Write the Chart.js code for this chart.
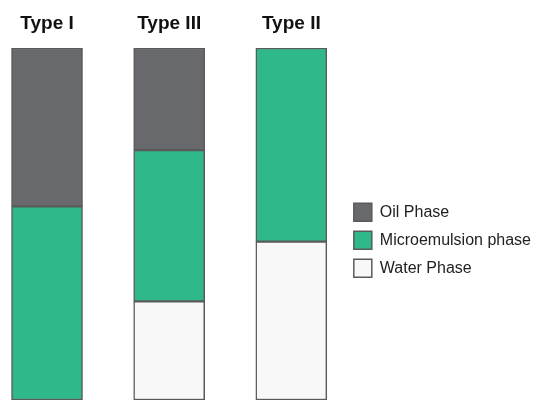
<!DOCTYPE html>
<html>
<head>
<meta charset="utf-8">
<script src="https://cdn.jsdelivr.net/npm/chart.js@4"></script>
<style>
  body { margin: 0; background: #fff; }
</style>
</head>
<body>
<canvas id="myChart" width="541" height="400"></canvas>
<script>
// phase volume fractions (% of tube height)
const types = ["Type I", "Type III", "Type II"]
const oil = [45, 29, null]
const micro = [55, 43, 55]
const water = [null, 28, 45]

const ctx = document.querySelector("#myChart")

const toPoints = arr => arr.map((v, i) => ({x: i, y: v}))

const common = {
  borderColor: '#5a5a5a',
  borderWidth: 1.5,
  borderSkipped: false,
  barThickness: 71
}

const data = {
  datasets: [
    {label: "Water Phase", data: toPoints(water), backgroundColor: '#f8f8f8', ...common},
    {label: "Microemulsion phase", data: toPoints(micro), backgroundColor: '#2fb98a', ...common},
    {label: "Oil Phase", data: toPoints(oil), backgroundColor: '#68696c', ...common}
  ]
}

const options = {
  responsive: false,
  animation: false,
  layout: {padding: 0},
  plugins: {
    tooltip: {enabled: false},
    legend: {
      position: 'right',
      reverse: true,
      title: {display: true, text: '', padding: {top: 33, bottom: 33}},
      labels: {
        boxWidth: 18,
        boxHeight: 18,
        padding: 10,
        color: '#222',
        font: {family: 'Liberation Sans, Arial, sans-serif', size: 16}
      }
    }
  },
  scales: {
    x: {
      type: 'linear',
      position: 'top',
      stacked: true,
      offset: false,
      min: -0.385,
      max: 2.43,
      grid: {display: false, drawTicks: false, offset: false},
      border: {display: false},
      afterBuildTicks: s => { s.ticks = types.map((t, i) => ({value: i})) },
      afterFit: s => { s.height = 48 },
      ticks: {
        padding: 13,
        color: '#111',
        font: {family: 'Liberation Sans, Arial, sans-serif', size: 19, weight: 'bold'},
        callback: v => types[v]
      }
    },
    y: {
      stacked: true,
      min: 0,
      max: 100,
      display: false
    }
  }
}

const chart = new Chart(ctx, {type: 'bar', data: data, options: options})
</script>
</body>
</html>
